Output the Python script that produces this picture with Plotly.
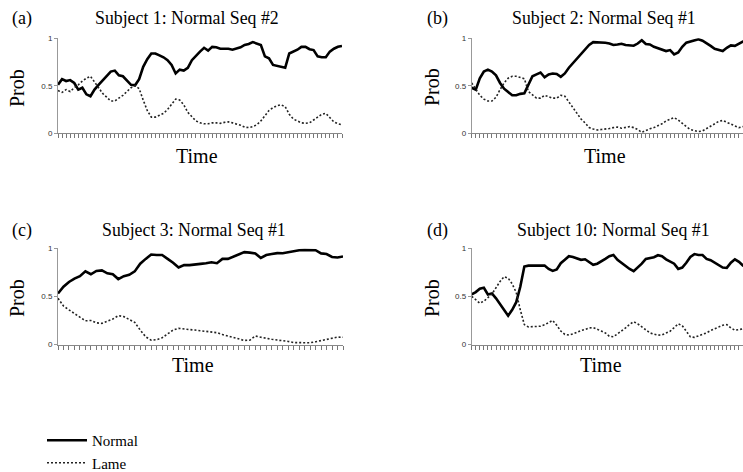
import plotly.graph_objects as go

W, H = 743, 472

# ---------------- data (time index = tick index) ----------------
normal_a = [0.51, 0.57, 0.55, 0.56, 0.53, 0.46, 0.48, 0.41, 0.39, 0.46, 0.51, 0.56, 0.60, 0.65, 0.66, 0.61,
            0.60, 0.55, 0.51, 0.505, 0.57, 0.70, 0.78, 0.84, 0.84, 0.82, 0.80, 0.77, 0.72, 0.63, 0.67, 0.66,
            0.69, 0.77, 0.82, 0.86, 0.90, 0.87, 0.91, 0.905, 0.89, 0.89, 0.89, 0.88, 0.89, 0.905, 0.93, 0.94,
            0.96, 0.947, 0.93, 0.81, 0.79, 0.72, 0.71, 0.70, 0.69, 0.84, 0.86, 0.88, 0.91, 0.91, 0.885, 0.876,
            0.81, 0.80, 0.80, 0.86, 0.89, 0.91, 0.92]
lame_a = [0.45, 0.43, 0.46, 0.44, 0.48, 0.51, 0.55, 0.58, 0.60, 0.54, 0.47, 0.42, 0.38, 0.34, 0.34, 0.37,
          0.40, 0.44, 0.48, 0.50, 0.47, 0.35, 0.24, 0.17, 0.17, 0.19, 0.21, 0.25, 0.30, 0.36, 0.35, 0.30,
          0.22, 0.17, 0.13, 0.11, 0.10, 0.10, 0.11, 0.11, 0.105, 0.115, 0.12, 0.11, 0.10, 0.085, 0.065, 0.06,
          0.07, 0.09, 0.13, 0.18, 0.24, 0.27, 0.29, 0.30, 0.28, 0.20, 0.15, 0.13, 0.11, 0.105, 0.11, 0.14,
          0.17, 0.20, 0.21, 0.17, 0.12, 0.10, 0.09]

normal_b = [0.48, 0.46, 0.58, 0.65, 0.67, 0.65, 0.61, 0.53, 0.47, 0.43, 0.40, 0.40, 0.415, 0.42, 0.51, 0.60,
            0.62, 0.64, 0.59, 0.62, 0.63, 0.625, 0.595, 0.63, 0.69, 0.74, 0.79, 0.84, 0.883, 0.93, 0.96, 0.96,
            0.957, 0.953, 0.946, 0.93, 0.935, 0.943, 0.93, 0.925, 0.922, 0.945, 0.98, 0.94, 0.935, 0.91, 0.895,
            0.876, 0.866, 0.876, 0.83, 0.85, 0.91, 0.954, 0.965, 0.98, 0.99, 0.975, 0.95, 0.92, 0.89, 0.88,
            0.866, 0.90, 0.925, 0.92, 0.94, 0.965, 0.97, 0.96, 0.97]
lame_b = [0.53, 0.47, 0.40, 0.36, 0.34, 0.34, 0.38, 0.46, 0.53, 0.58, 0.60, 0.60, 0.59, 0.575, 0.44, 0.40,
          0.37, 0.37, 0.40, 0.385, 0.37, 0.37, 0.40, 0.39, 0.33, 0.26, 0.20, 0.15, 0.11, 0.06, 0.045, 0.035,
          0.04, 0.042, 0.05, 0.06, 0.065, 0.053, 0.06, 0.07, 0.06, 0.04, 0.01, 0.03, 0.047, 0.06, 0.077, 0.10,
          0.13, 0.145, 0.165, 0.14, 0.10, 0.07, 0.04, 0.027, 0.018, 0.025, 0.05, 0.075, 0.105, 0.125, 0.135,
          0.115, 0.09, 0.078, 0.06, 0.07, 0.06, 0.05, 0.05]

normal_c = [0.53, 0.60, 0.65, 0.685, 0.71, 0.76, 0.73, 0.765, 0.77, 0.74, 0.73, 0.68, 0.71, 0.725, 0.76,
            0.84, 0.89, 0.935, 0.93, 0.93, 0.89, 0.85, 0.80, 0.825, 0.825, 0.828, 0.838, 0.845, 0.855, 0.845,
            0.89, 0.89, 0.915, 0.935, 0.96, 0.955, 0.947, 0.90, 0.93, 0.94, 0.95, 0.948, 0.96, 0.973, 0.98,
            0.982, 0.982, 0.98, 0.947, 0.94, 0.91, 0.905, 0.915]
lame_c = [0.48, 0.40, 0.36, 0.32, 0.28, 0.246, 0.25, 0.225, 0.22, 0.24, 0.265, 0.30, 0.29, 0.26, 0.23, 0.15,
          0.08, 0.045, 0.05, 0.07, 0.11, 0.15, 0.168, 0.165, 0.155, 0.15, 0.142, 0.135, 0.133, 0.123, 0.104,
          0.088, 0.07, 0.052, 0.042, 0.045, 0.088, 0.076, 0.063, 0.054, 0.046, 0.04, 0.032, 0.02, 0.018,
          0.018, 0.018, 0.028, 0.042, 0.056, 0.07, 0.077, 0.075]

normal_d = [0.52, 0.545, 0.58, 0.59, 0.52, 0.53, 0.48, 0.42, 0.36, 0.30, 0.36, 0.44, 0.60, 0.81, 0.82, 0.82,
            0.818, 0.825, 0.82, 0.785, 0.765, 0.78, 0.845, 0.88, 0.918, 0.91, 0.895, 0.88, 0.886, 0.86, 0.828,
            0.84, 0.862, 0.89, 0.918, 0.93, 0.88, 0.845, 0.81, 0.785, 0.762, 0.80, 0.84, 0.89, 0.90, 0.908,
            0.928, 0.918, 0.885, 0.865, 0.84, 0.786, 0.80, 0.85, 0.91, 0.94, 0.93, 0.93, 0.89, 0.876, 0.848,
            0.822, 0.80, 0.796, 0.85, 0.886, 0.86, 0.82, 0.80, 0.80, 0.81]
lame_d = [0.50, 0.46, 0.43, 0.45, 0.49, 0.525, 0.59, 0.655, 0.705, 0.69, 0.63, 0.54, 0.36, 0.207, 0.183,
          0.183, 0.183, 0.19, 0.205, 0.226, 0.25, 0.20, 0.14, 0.105, 0.098, 0.11, 0.13, 0.145, 0.157, 0.172,
          0.175, 0.16, 0.14, 0.12, 0.085, 0.08, 0.11, 0.138, 0.172, 0.21, 0.237, 0.215, 0.185, 0.15, 0.121,
          0.107, 0.097, 0.10, 0.12, 0.138, 0.175, 0.215, 0.195, 0.14, 0.08, 0.074, 0.088, 0.108, 0.121,
          0.145, 0.162, 0.185, 0.20, 0.207, 0.172, 0.148, 0.153, 0.162, 0.15, 0.14, 0.13]

panel_letters = ["(a)", "(b)", "(c)", "(d)"]
panel_titles = ["Subject 1: Normal Seq #2", "Subject 2: Normal Seq #1",
                "Subject 3: Normal Seq #1", "Subject 10: Normal Seq #1"]
series_names = ["Normal", "Lame"]
y_tick_vals = [0, 0.5, 1]
y_tick_text = ["0", "0.5", "1"]
x_label = "Time"
y_label = "Prob"

panels = [
    dict(normal=normal_a, lame=lame_a, xr=[0, 70]),
    dict(normal=normal_b, lame=lame_b, xr=[0, 67]),
    dict(normal=normal_c, lame=lame_c, xr=[0, 52]),
    dict(normal=normal_d, lame=lame_d, xr=[0, 67]),
]

# ---------------- layout geometry (pixels) ----------------
def px(x):
    return x / W

def py(y):
    return 1 - y / H

x_doms = [[px(58), px(342)], [px(471.7), 1.0], [px(58), px(343)], [px(471.7), 1.0]]
y_doms = [[py(133.3), py(38.3)], [py(133.3), py(38.3)], [py(344.5), py(248.3)], [py(344.5), py(248.3)]]

serif = "Liberation Serif, Times New Roman, serif"
fig = go.Figure()

for k, p in enumerate(panels):
    xa = "x" if k == 0 else f"x{k+1}"
    ya = "y" if k == 0 else f"y{k+1}"
    t = list(range(len(p["normal"])))
    fig.add_trace(go.Scatter(x=t, y=p["normal"], mode="lines", name=series_names[0],
                             line=dict(color="black", width=2.6), xaxis=xa, yaxis=ya,
                             showlegend=(k == 0), legendrank=1))
    fig.add_trace(go.Scatter(x=t, y=p["lame"], mode="lines", name=series_names[1],
                             line=dict(color="#222", width=1.6, dash="2px,2px"), xaxis=xa, yaxis=ya,
                             showlegend=(k == 0), legendrank=2))

layout = dict(width=W, height=H, margin=dict(l=0, r=0, t=0, b=0, autoexpand=False),
              paper_bgcolor="white", plot_bgcolor="white",
              legend=dict(x=px(42), y=py(424), xanchor="left", yanchor="top",
                          font=dict(family=serif, size=15, color="black"),
                          bgcolor="rgba(0,0,0,0)", tracegroupgap=0, itemwidth=40),
              annotations=[])

for k, p in enumerate(panels):
    sx = "xaxis" if k == 0 else f"xaxis{k+1}"
    sy = "yaxis" if k == 0 else f"yaxis{k+1}"
    yref = "y" if k == 0 else f"y{k+1}"
    layout[sx] = dict(domain=x_doms[k], range=p["xr"], anchor=yref, showgrid=False, zeroline=False,
                      showline=True, linecolor="#888", linewidth=1, ticks="outside", ticklen=4,
                      tickwidth=1, tickcolor="#777", tick0=0, dtick=1, showticklabels=False)
    xref = "x" if k == 0 else f"x{k+1}"
    layout[sy] = dict(domain=y_doms[k], range=[0, 1], anchor=xref, showgrid=False, zeroline=False,
                      showline=True, linecolor="#999", linewidth=1, ticks="outside", ticklen=3,
                      tickcolor="#999", tickvals=y_tick_vals, ticktext=y_tick_text,
                      tickfont=dict(family="Arial, Liberation Sans, sans-serif", size=8, color="#333"))

# text positions (pixel centres)
letter_pos = [(22, 18), (437, 18), (22, 230), (437, 230)]
title_pos = [(187, 18), (604, 18), (194, 230), (613, 230)]
time_pos = [(197, 156), (605, 156), (193, 365), (601, 365)]
prob_pos = [(17, 88), (432, 87), (17, 298), (432, 298)]

for k in range(4):
    for (txt, pos, size, ang) in [(panel_letters[k], letter_pos[k], 18, 0),
                                  (panel_titles[k], title_pos[k], 17.8, 0),
                                  (x_label, time_pos[k], 20, 0),
                                  (y_label, prob_pos[k], 20, -90)]:
        layout["annotations"].append(dict(text=txt, x=px(pos[0]), y=py(pos[1]), xref="paper", yref="paper",
                                          xanchor="center", yanchor="middle", showarrow=False, textangle=ang,
                                          font=dict(family=serif, size=size, color="black")))

fig.update_layout(**layout)
fig.write_html("out.html", config={"displayModeBar": False},
               post_script="document.body.style.margin='0';document.body.style.overflow='hidden';")
